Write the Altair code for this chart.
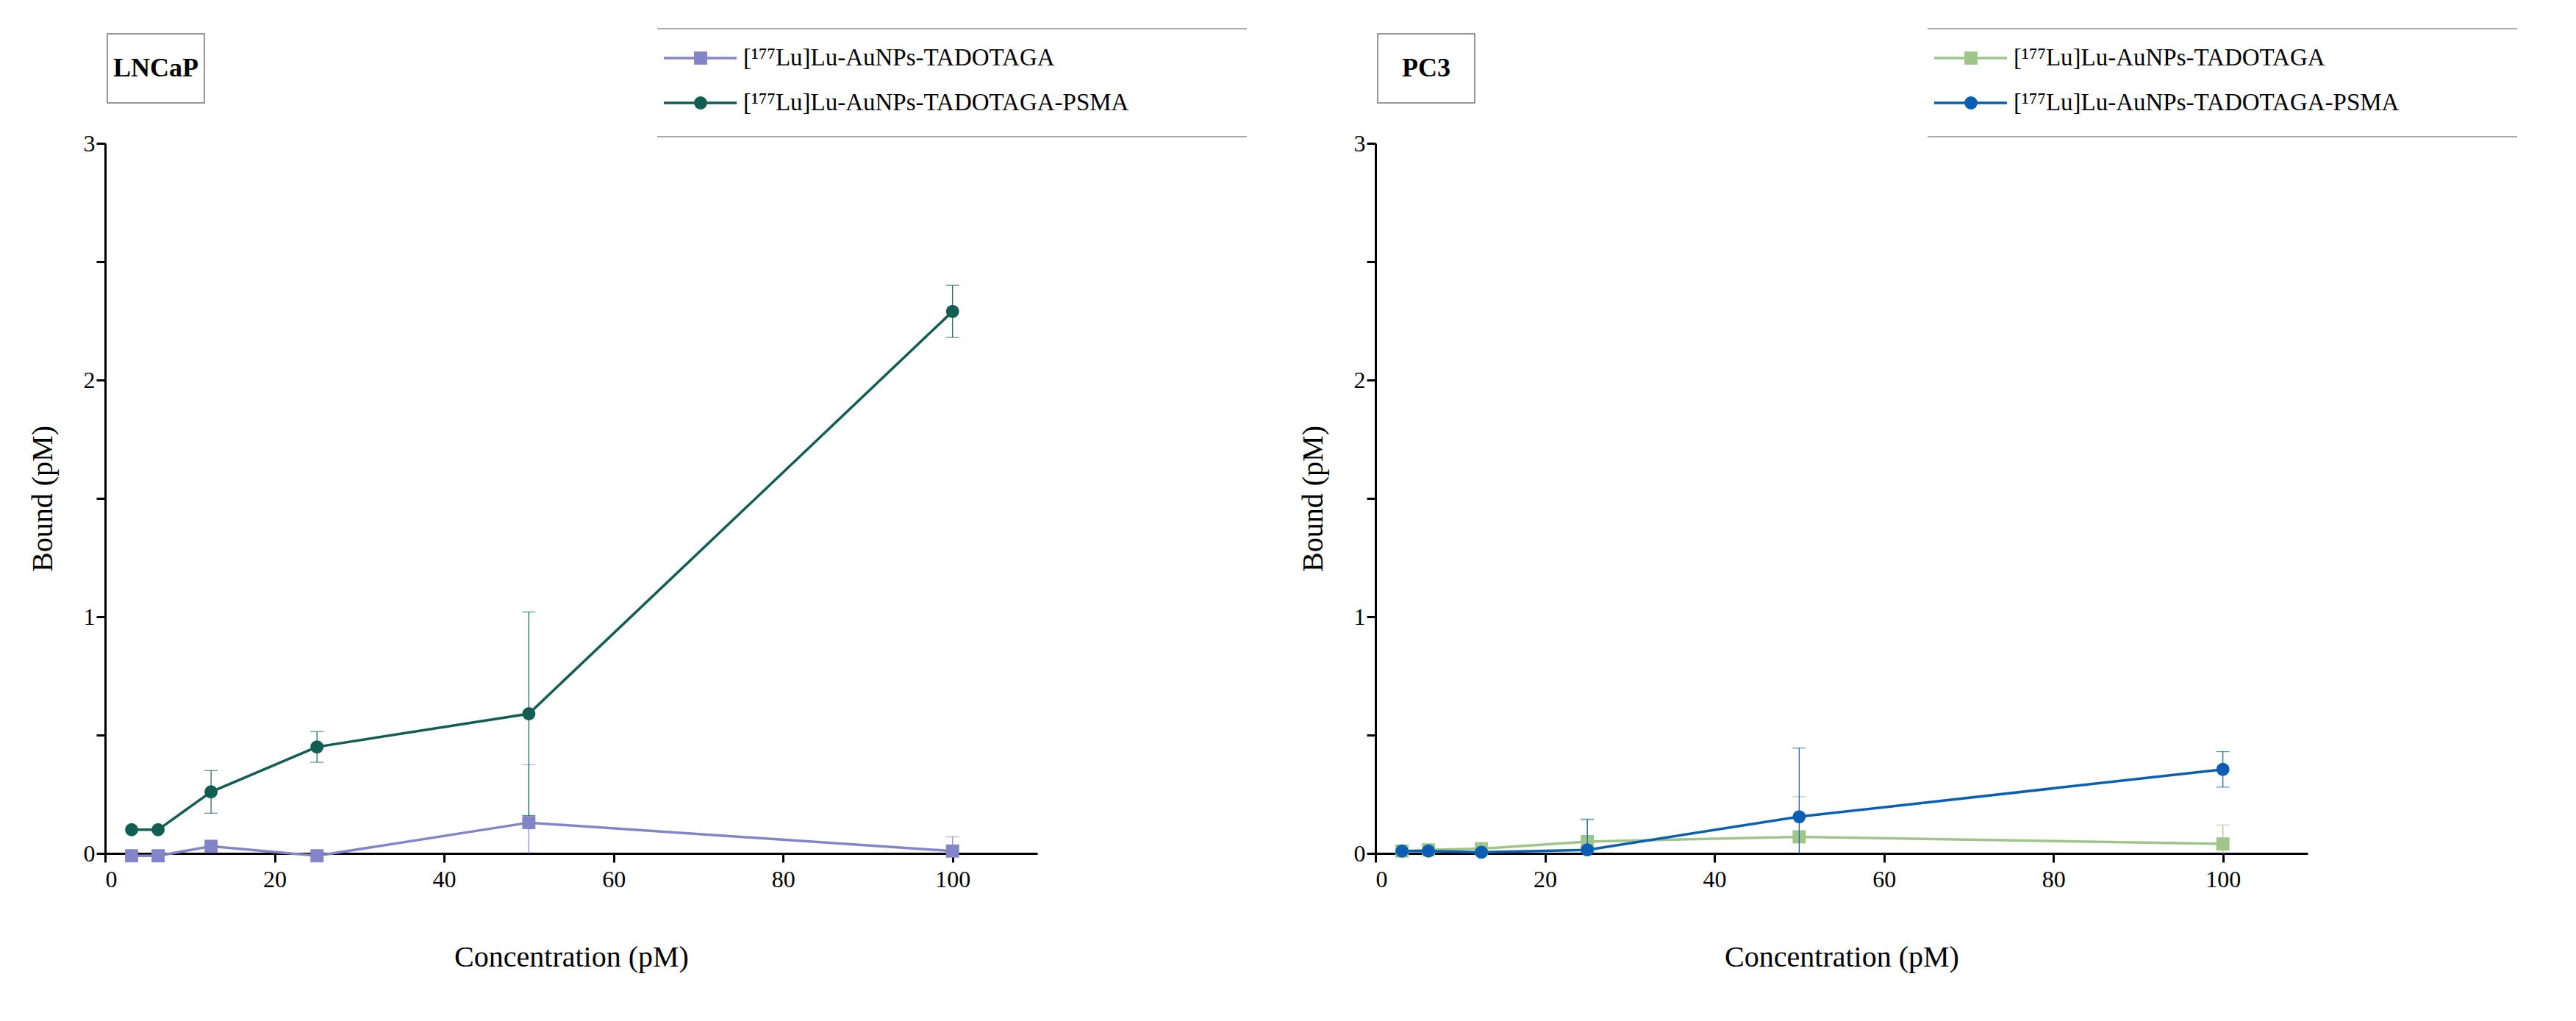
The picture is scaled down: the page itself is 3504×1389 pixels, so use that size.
import altair as alt
import pandas as pd

conc = [3.125, 6.25, 12.5, 25, 50, 100]

lncap_plain = [-0.01, -0.01, 0.03, -0.01, 0.13, 0.01]
lncap_plain_err = [0, 0, 0, 0, 0.245, 0.06]
lncap_psma = [0.10, 0.10, 0.26, 0.45, 0.59, 2.29]
lncap_psma_err = [0, 0, 0.09, 0.065, 0.43, 0.11]

pc3_plain = [0.01, 0.015, 0.02, 0.05, 0.07, 0.04]
pc3_plain_err = [0, 0, 0, 0.09, 0.17, 0.08]
pc3_psma = [0.01, 0.01, 0.005, 0.015, 0.155, 0.355]
pc3_psma_err = [0, 0, 0, 0.13, 0.29, 0.075]

labels = ["[¹⁷⁷Lu]Lu-AuNPs-TADOTAGA", "[¹⁷⁷Lu]Lu-AuNPs-TADOTAGA-PSMA"]
FONT = "Liberation Serif"
W, H = 1268, 966


def series_layers(vals, errs, color, shape):
    d = pd.DataFrame({"c": conc, "v": vals, "e": errs})
    d["lo"] = d["v"] - d["e"]
    d["hi"] = d["v"] + d["e"]
    x = alt.X("c:Q", scale=alt.Scale(domain=[0, 110], nice=False),
              axis=alt.Axis(values=[0, 20, 40, 60, 80, 100], title="Concentration (pM)"))
    y = alt.Y("v:Q", scale=alt.Scale(domain=[0, 3], nice=False),
              axis=alt.Axis(values=[0, 0.5, 1, 1.5, 2, 2.5, 3],
                            labelExpr="datum.value % 1 == 0 ? format(datum.value, 'd') : ''",
                            title="Bound (pM)"))
    base = alt.Chart(d)
    eb = base.transform_filter("datum.e > 0")
    rule = eb.mark_rule(color=color, strokeWidth=1.2, clip=True).encode(x=x, y="lo:Q", y2="hi:Q")
    cap_hi = eb.mark_tick(color=color, orient="horizontal", size=18, thickness=1.2,
                          clip=True).encode(x=x, y="hi:Q")
    cap_lo = eb.mark_tick(color=color, orient="horizontal", size=18, thickness=1.2,
                          clip=True).encode(x=x, y="lo:Q")
    line = base.mark_line(color=color, strokeWidth=3.5).encode(x=x, y=y)
    pts = base.mark_point(color=color, filled=True, opacity=1, shape=shape, size=320).encode(x=x, y=y)
    return [rule, cap_hi, cap_lo, line, pts]


def decor(title, colors):
    one = alt.Chart(pd.DataFrame({"a": [0]}))
    layers = []
    # title box
    layers.append(one.mark_rect(fill="white", stroke="#777", strokeWidth=1.5).encode(
        x=alt.value(3), x2=alt.value(135), y=alt.value(-149), y2=alt.value(-55)))
    layers.append(one.mark_text(text=title, font=FONT, fontSize=36, fontWeight="bold",
                                align="center", baseline="middle").encode(
        x=alt.value(69), y=alt.value(-102)))
    # legend frame lines
    for yy in (-156, -9):
        layers.append(one.mark_rule(color="#555", strokeWidth=1.2).encode(
            x=alt.value(751), x2=alt.value(1553), y=alt.value(yy)))
    for i, (lab, col, shp) in enumerate(zip(labels, colors, ["square", "circle"])):
        yy = -116 + 61 * i
        layers.append(one.mark_rule(color=col, strokeWidth=3.5).encode(
            x=alt.value(760), x2=alt.value(859), y=alt.value(yy)))
        layers.append(one.mark_point(color=col, filled=True, opacity=1, shape=shp, size=320).encode(
            x=alt.value(810), y=alt.value(yy)))
        layers.append(one.mark_text(text=lab, font=FONT, fontSize=33, align="left",
                                    baseline="middle").encode(x=alt.value(868), y=alt.value(yy)))
    return layers


def panel(title, plain, plain_err, psma, psma_err, colors):
    layers = series_layers(plain, plain_err, colors[0], "square") + \
        series_layers(psma, psma_err, colors[1], "circle") + decor(title, colors)
    return alt.layer(*layers).properties(width=W, height=H)


left = panel("LNCaP", lncap_plain, lncap_plain_err, lncap_psma, lncap_psma_err,
             ["#8484c8", "#125e52"])
right = panel("PC3", pc3_plain, pc3_plain_err, pc3_psma, pc3_psma_err,
              ["#9fc58a", "#0a5fb5"])

chart = alt.hconcat(left, right, spacing=69).properties(
    padding={"left": 30, "top": 30, "right": 5, "bottom": 5}
).configure_view(stroke=None).configure_axis(
    grid=False, domainColor="black", domainWidth=3, tickColor="black", tickWidth=3,
    tickSize=12, labelFont=FONT, titleFont=FONT, labelFontSize=32, titleFontSize=40,
    titleFontWeight="normal", labelColor="black", titleColor="black",
).configure_axisX(titlePadding=70, labelPadding=8).configure_axisY(titlePadding=35)

chart.save("out.html", embed_options={"renderer": "svg", "actions": False})
